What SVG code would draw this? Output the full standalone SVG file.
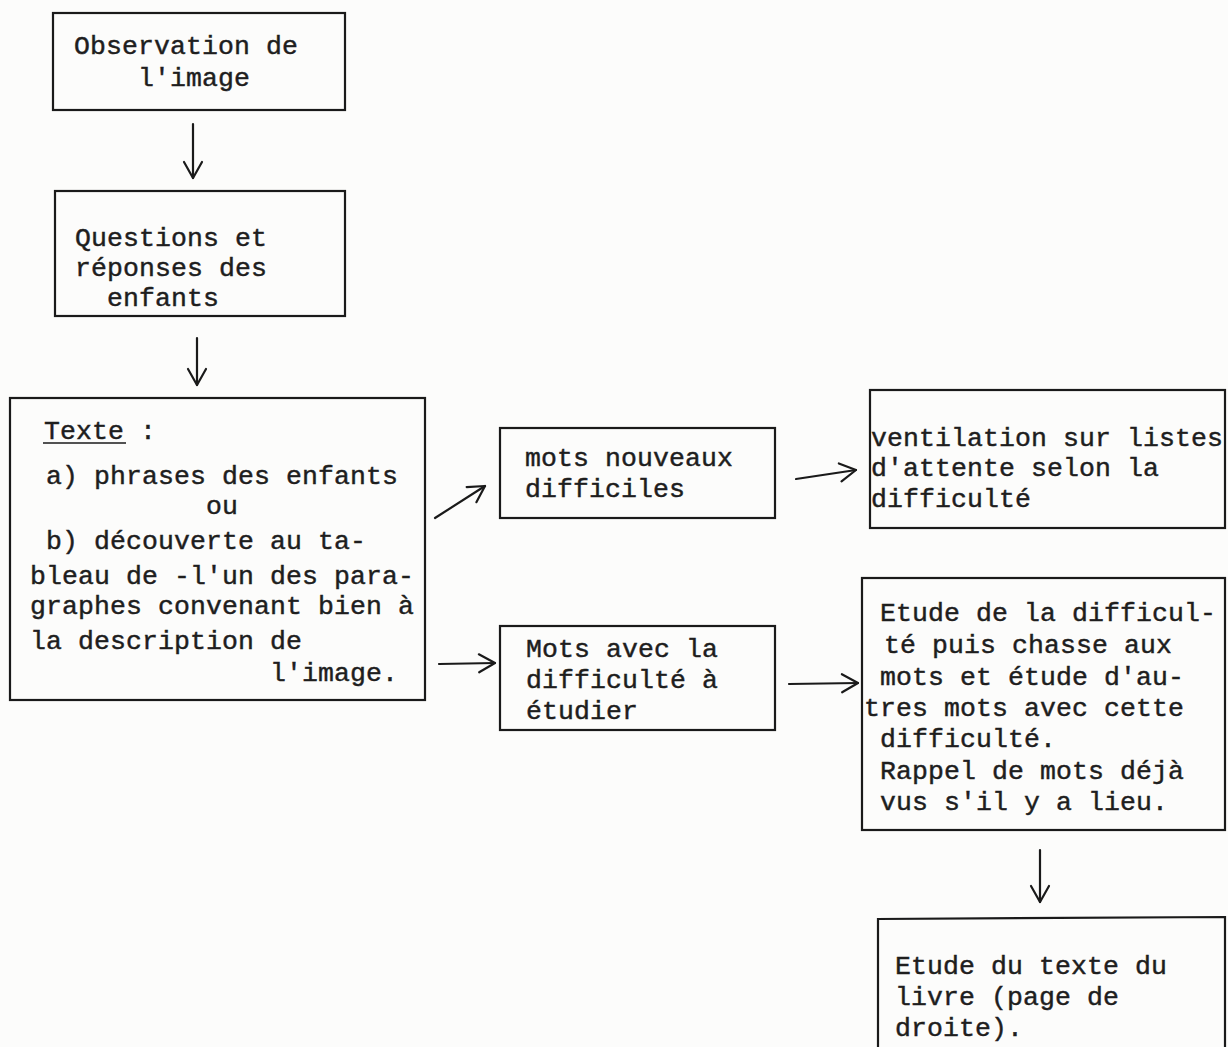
<svg xmlns="http://www.w3.org/2000/svg" width="1228" height="1047" viewBox="0 0 1228 1047">
<style>
.box{fill:none;stroke:#1a1a1a;stroke-width:2.2}
.t{font-family:"Liberation Mono","DejaVu Sans Mono",monospace;font-size:26.5px;letter-spacing:0.1px;fill:#1e1e1e;stroke:#1e1e1e;stroke-width:0.45}
.c{fill:none;stroke:#1a1a1a;stroke-width:2.2;stroke-linecap:round;stroke-linejoin:round}
</style>
<defs>
<marker id="ah" viewBox="-18 -11 20 22" markerWidth="20" markerHeight="22" refX="0" refY="0" orient="auto" markerUnits="userSpaceOnUse">
<path d="M-16,-9 L0,0 L-16,9" fill="none" stroke="#1a1a1a" stroke-width="2.2" stroke-linecap="round" stroke-linejoin="round"/>
</marker>
</defs>
<rect width="1228" height="1047" fill="#fcfcfb"/>
<g id="connectors">
<path class="c" d="M193,124 L193,178" marker-end="url(#ah)"/>
<path class="c" d="M197,338 L197,385" marker-end="url(#ah)"/>
<path class="c" d="M435,518 L485,486" marker-end="url(#ah)"/>
<path class="c" d="M439,664 L495,663" marker-end="url(#ah)"/>
<path class="c" d="M796,479 L856,470" marker-end="url(#ah)"/>
<path class="c" d="M789,684 L858,683" marker-end="url(#ah)"/>
<path class="c" d="M1040,850 L1040,902" marker-end="url(#ah)"/>
</g>
<g id="n1">
<rect class="box" x="53" y="13" width="292" height="97"/>
<text class="t" x="74" y="54">Observation de</text>
<text class="t" x="138" y="86">l'image</text>
</g>
<g id="n2">
<rect class="box" x="55" y="191" width="290" height="125"/>
<text class="t" x="75" y="246">Questions et</text>
<text class="t" x="75" y="276">réponses des</text>
<text class="t" x="107" y="306">enfants</text>
</g>
<g id="n3">
<rect class="box" x="10" y="398" width="415" height="302"/>
<text class="t" x="44" y="439">Texte :</text>
<line x1="43" y1="443" x2="126" y2="443" stroke="#1a1a1a" stroke-width="1.6"/>
<text class="t" x="46" y="484">a) phrases des enfants</text>
<text class="t" x="206" y="514">ou</text>
<text class="t" x="46" y="549">b) découverte au ta-</text>
<text class="t" x="30" y="584">bleau de -l'un des para-</text>
<text class="t" x="30" y="614">graphes convenant bien à</text>
<text class="t" x="30" y="649">la description de</text>
<text class="t" x="270" y="681">l'image.</text>
</g>
<g id="n4">
<rect class="box" x="500" y="428" width="275" height="90"/>
<text class="t" x="525" y="466">mots nouveaux</text>
<text class="t" x="525" y="497">difficiles</text>
</g>
<g id="n5">
<rect class="box" x="870" y="390" width="355" height="138"/>
<text class="t" x="871" y="446">ventilation sur listes</text>
<text class="t" x="871" y="476">d'attente selon la</text>
<text class="t" x="871" y="507">difficulté</text>
</g>
<g id="n6">
<rect class="box" x="500" y="626" width="275" height="104"/>
<text class="t" x="526" y="657">Mots avec la</text>
<text class="t" x="526" y="688">difficulté à</text>
<text class="t" x="526" y="719">étudier</text>
</g>
<g id="n7">
<rect class="box" x="862" y="578" width="363" height="252"/>
<text class="t" x="880" y="621">Etude de la difficul-</text>
<text class="t" x="884" y="653">té puis chasse aux</text>
<text class="t" x="880" y="685">mots et étude d'au-</text>
<text class="t" x="864" y="716">tres mots avec cette</text>
<text class="t" x="880" y="747">difficulté.</text>
<text class="t" x="880" y="779">Rappel de mots déjà</text>
<text class="t" x="880" y="810">vus s'il y a lieu.</text>
</g>
<g id="n8">
<path class="box" d="M878,1047 L878,919 L1225,917 L1225,1047"/>
<text class="t" x="895" y="974">Etude du texte du</text>
<text class="t" x="895" y="1005">livre (page de</text>
<text class="t" x="895" y="1036">droite).</text>
</g>
</svg>
